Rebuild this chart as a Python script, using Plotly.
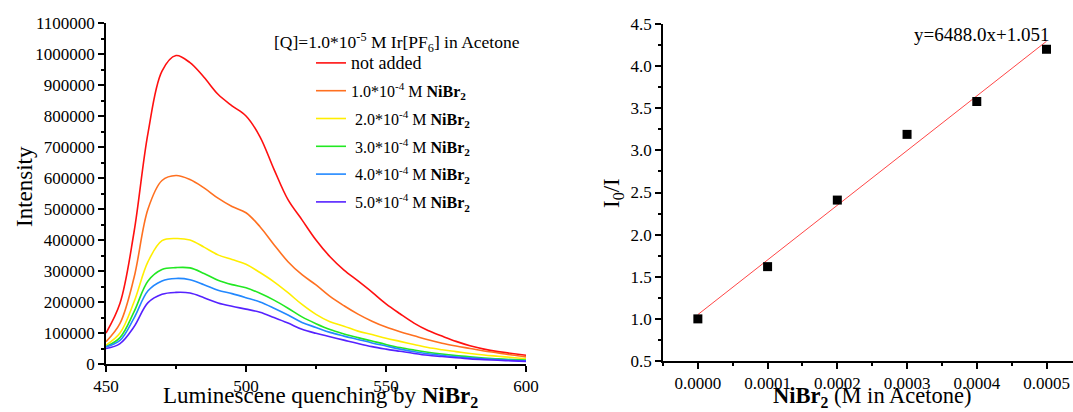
import plotly.graph_objects as go
import numpy as np

# ---------------- data ----------------
wavelength = list(range(450, 601, 5))

i_not_added = [100000, 196000, 425000, 745000, 945000, 995000, 972000, 925000, 870000, 833000,
               800000, 733000, 628000, 530000, 465000, 400000, 346000, 303000, 268000, 232000,
               194000, 162000, 132000, 108000, 90000, 73000, 59000, 48000, 40000, 34000, 28000]
i_1e4 = [72000, 131000, 278000, 500000, 592000, 608000, 595000, 568000, 535000, 508000,
         488000, 443000, 385000, 330000, 288000, 255000, 218000, 188000, 161000, 138000,
         119000, 104000, 91000, 78000, 67000, 58000, 50000, 42000, 36000, 29000, 23000]
i_2e4 = [61000, 100000, 200000, 330000, 398000, 405000, 400000, 377000, 352000, 337000,
         322000, 295000, 265000, 230000, 192000, 160000, 136000, 122000, 106000, 95000,
         83000, 73000, 63000, 53000, 46000, 40000, 34000, 29000, 25000, 21000, 17000]
i_3e4 = [56000, 85000, 168000, 268000, 305000, 311000, 310000, 292000, 270000, 256000,
         246000, 228000, 206000, 180000, 152000, 130000, 111000, 97000, 85000, 74000,
         63000, 53000, 45000, 38000, 32000, 27000, 23000, 19500, 16500, 14500, 13000]
i_4e4 = [55000, 76000, 148000, 236000, 268000, 276000, 272000, 256000, 238000, 227000,
         214000, 200000, 180000, 158000, 134000, 118000, 102000, 90000, 79000, 68000,
         58000, 48000, 40000, 33000, 28000, 23500, 20000, 17000, 14000, 12000, 10500]
i_5e4 = [50000, 66000, 120000, 198000, 225000, 231000, 229000, 214000, 197000, 186000,
         177000, 167000, 150000, 132000, 112000, 99000, 88000, 77000, 66000, 56000,
         48000, 41000, 34000, 28000, 24000, 20000, 16500, 14000, 12000, 10000, 8500]

legend_title = "[Q]=1.0*10<sup>-5</sup> M Ir[PF<sub>6</sub>] in Acetone"
series_names = ['<span style="font-size:18px">not added</span>',
                "1.0*10<sup>-4</sup> M <b>NiBr<sub>2</sub></b>",
                " 2.0*10<sup>-4</sup> M <b>NiBr<sub>2</sub></b>",
                " 3.0*10<sup>-4</sup> M <b>NiBr<sub>2</sub></b>",
                " 4.0*10<sup>-4</sup> M <b>NiBr<sub>2</sub></b>",
                " 5.0*10<sup>-4</sup> M <b>NiBr<sub>2</sub></b>"]
series_values = [i_not_added, i_1e4, i_2e4, i_3e4, i_4e4, i_5e4]
series_colors = ["#ff1010", "#ff7020", "#ffee00", "#22e822", "#2288ff", "#5522ff"]

conc = [0.0, 0.0001, 0.0002, 0.0003, 0.0004, 0.0005]
i0_over_i = [1.00, 1.62, 2.41, 3.19, 3.58, 4.20]
fit_slope = 6488.0
fit_intercept = 1.051
fit_label = "y=6488.0x+1.051"

left_xtitle = "Luminescene quenching by <b>NiBr<sub>2</sub></b>"
left_ytitle = "Intensity"
right_xtitle = "<b>NiBr<sub>2</sub></b> (M in Acetone)"
right_ytitle = "I<sub>0</sub>/I"

FONT = "Liberation Serif"

fig = go.Figure()

for name, vals, col in zip(series_names, series_values, series_colors):
    fig.add_trace(go.Scatter(x=wavelength, y=vals, mode="lines", name=name,
                             legendgroup=name,
                             line=dict(color=col, width=1.6, shape="spline", smoothing=1.0),
                             xaxis="x", yaxis="y"))

fit_x = np.array([conc[0], conc[-1]])
fit_y = fit_slope * fit_x + fit_intercept
fig.add_trace(go.Scatter(x=fit_x, y=fit_y, mode="lines", showlegend=False,
                         line=dict(color="rgb(255,70,70)", width=1),
                         xaxis="x2", yaxis="y2"))
fig.add_trace(go.Scatter(x=conc, y=i0_over_i, mode="markers", showlegend=False,
                         marker=dict(symbol="square", size=9, color="black"),
                         xaxis="x2", yaxis="y2"))

W, H = 1073, 412
TOP, BOT = 23, 364
PH = BOT - TOP


def py(px):
    """pixel row -> paper y"""
    return (BOT - px) / PH


axis_common = dict(showline=True, linecolor="black", linewidth=1.5, ticks="outside",
                   ticklen=6, tickwidth=1.5, tickcolor="black", showgrid=False,
                   zeroline=False, automargin=False,
                   tickfont=dict(family=FONT, size=17, color="black"))

fig.update_layout(
    width=W, height=H,
    margin=dict(l=0, r=0, t=TOP, b=H - BOT),
    paper_bgcolor="white", plot_bgcolor="white",
    font=dict(family=FONT, color="black"),
    xaxis=dict(domain=[106 / W, 526 / W], range=[450, 600], dtick=50,
               minor=dict(ticks="outside", ticklen=3, dtick=25, tickcolor="black", tickwidth=1.5),
               anchor="y", **axis_common),
    yaxis=dict(domain=[0, 1], range=[0, 1100000], dtick=100000, tickformat="d",
               minor=dict(ticks="outside", ticklen=3, dtick=50000, tickcolor="black", tickwidth=1.5),
               anchor="x", **axis_common),
    xaxis2=dict(domain=[663 / W, 1.0], range=[-0.00005, 0.000538], dtick=0.0001,
                tickformat=".4f",
                minor=dict(ticks="outside", ticklen=3, dtick=0.00005, tickcolor="black", tickwidth=1.5),
                anchor="y2", **axis_common),
    yaxis2=dict(domain=[py(361), py(24)], range=[0.5, 4.5], dtick=0.5, tickformat=".1f",
                minor=dict(ticks="outside", ticklen=3, dtick=0.25, tickcolor="black", tickwidth=1.5),
                anchor="x2", **axis_common),
    legend=dict(x=311 / W, xanchor="left", y=py(46), yanchor="top",
                bgcolor="rgba(0,0,0,0)", borderwidth=0,
                font=dict(family=FONT, size=16, color="black"),
                tracegroupgap=4),
    annotations=[
        dict(text=legend_title, x=397 / W, y=py(43), xref="paper", yref="paper",
             showarrow=False, font=dict(family=FONT, size=17.5, color="black"),
             xanchor="center", yanchor="middle"),
        dict(text=fit_label, x=0.000407, y=4.37, xref="x2", yref="y2",
             showarrow=False, font=dict(family=FONT, size=19, color="black"),
             xanchor="center", yanchor="middle"),
        dict(text=left_xtitle, x=320 / W, y=py(397), xref="paper", yref="paper",
             showarrow=False, font=dict(family=FONT, size=23, color="black"),
             xanchor="center", yanchor="middle"),
        dict(text=left_ytitle, x=24 / W, y=py(187), xref="paper", yref="paper",
             showarrow=False, textangle=-90, font=dict(family=FONT, size=23, color="black"),
             xanchor="center", yanchor="middle"),
        dict(text=right_xtitle, x=872 / W, y=py(397), xref="paper", yref="paper",
             showarrow=False, font=dict(family=FONT, size=22.5, color="black"),
             xanchor="center", yanchor="middle"),
        dict(text=right_ytitle, x=613 / W, y=py(193), xref="paper", yref="paper",
             showarrow=False, textangle=-90, font=dict(family=FONT, size=23, color="black"),
             xanchor="center", yanchor="middle"),
    ],
)

fig.write_html("out.html")
